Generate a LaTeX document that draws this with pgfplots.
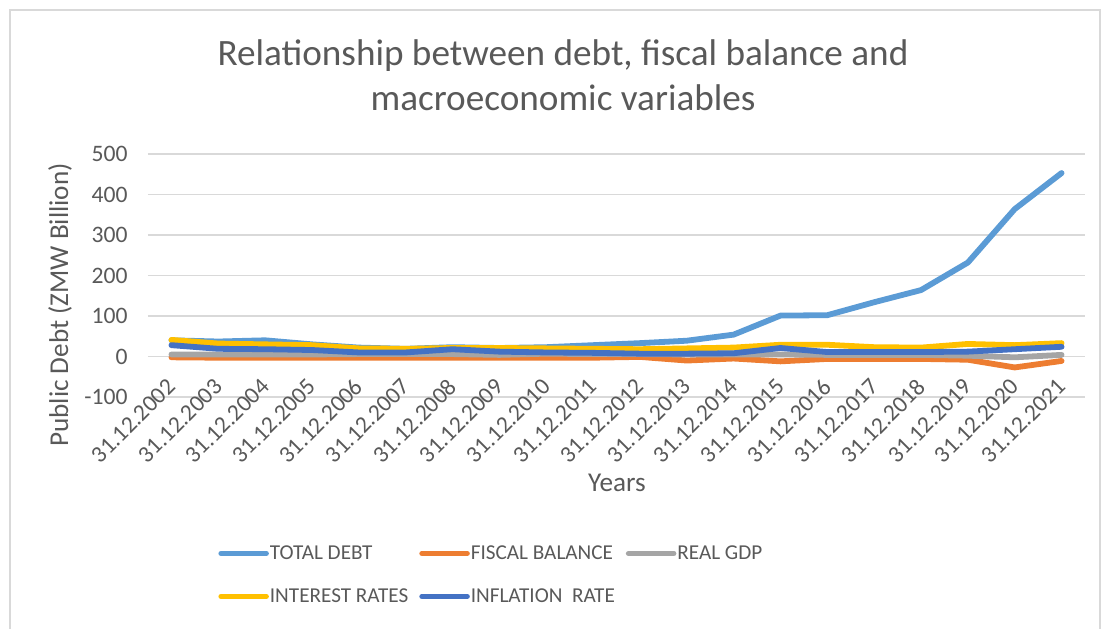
\documentclass[border=0pt]{standalone}
\usepackage{pgfplots}
\pgfplotsset{compat=1.18}
\usepackage{fontspec}
\setmainfont{Carlito}
\definecolor{cDebt}{HTML}{5B9BD5}
\definecolor{cFisc}{HTML}{ED7D31}
\definecolor{cGdp}{HTML}{A5A5A5}
\definecolor{cInt}{HTML}{FFC000}
\definecolor{cInf}{HTML}{4472C4}
\definecolor{cTxt}{HTML}{595959}
\definecolor{cGrid}{HTML}{D9D9D9}

\pgfplotstableread{
x debt fisc gdp int inf
0  40  -2  5  41 28
1  37  -3  5  32 19
2  40  -3  5  30 18
3  30  -3  5  28 16
4  22  -3  6  20 10
5  19  -3  6  19 10
6  23  -3  6  21 18
7  21  -3  4  21 12
8  23  -3  7  20 10
9  28  -3  6  19  9
10 33  -1  6  18  7
11 39 -10  5  20  7
12 54  -5  5  22  8
13 101 -12 5  29 21
14 102 -6  4  29 11
15 134 -6  4  23 11
16 164 -6  4  22 11
17 232 -8  2  31 12
18 364 -27 -2 28 18
19 453 -11 4  33 24
}\datatable

\begin{document}
\begin{tikzpicture}
\useasboundingbox (0,0) rectangle (552.5pt,314pt);
\clip (0,0) rectangle (552.5pt,314pt);
\draw[cGrid, line width=0.8pt] (5pt,-10pt) rectangle (550pt,309pt);
\node[anchor=base, text=cTxt, font=\fontsize{18.6}{22}\selectfont] at (281.5pt,281pt) {Relationship between debt, fiscal balance and};
\node[anchor=base, text=cTxt, font=\fontsize{18.6}{22}\selectfont] at (281.5pt,258.5pt) {macroeconomic variables};
\node[rotate=90, text=cTxt, font=\fontsize{13.6}{16}\selectfont] at (30pt,161.5pt) {Public Debt (ZMW Billion)};
\node[text=cTxt, font=\fontsize{13.6}{16}\selectfont] at (308.5pt,72.5pt) {Years};
\begin{axis}[
  at={(74pt,115.5pt)}, anchor=south west,
  scale only axis, width=468.5pt, height=121.5pt,
  xmin=-0.5, xmax=19.5, ymin=-100, ymax=500,
  ytick={-100,0,100,200,300,400,500},
  yticklabels={-100,0,100,200,300,400,500},
  xtick={0,...,19},
  xticklabels={31.12.2002,31.12.2003,31.12.2004,31.12.2005,31.12.2006,31.12.2007,31.12.2008,31.12.2009,31.12.2010,31.12.2011,31.12.2012,31.12.2013,31.12.2014,31.12.2015,31.12.2016,31.12.2017,31.12.2018,31.12.2019,31.12.2020,31.12.2021},
  axis line style={draw=none},
  major tick length=0pt,
  ymajorgrids,
  major grid style={cGrid, line width=0.8pt},
  tick label style={text=cTxt, font=\fontsize{11.8}{13}\selectfont},
  yticklabel style={xshift=-6.7pt},
  xticklabel style={xshift=2.5pt, yshift=9.5pt, rotate=45, anchor=east},
  clip=false,
  legend columns=3,
  legend cell align=left,
  legend style={draw=none, fill=none, inner sep=0pt, at={(0.0747,-0.605)}, anchor=north west,
    row sep=12.5pt,
    nodes={inner sep=0pt, text height=7.6pt, text depth=1.4pt, text=cTxt, font=\fontsize{10.6}{12}\selectfont},
    /tikz/every odd column/.append style={column sep=0.5pt},
    /tikz/every even column/.append style={column sep=5.5pt}},
  legend image code/.code={\draw[#1, line width=2.5pt, line cap=round] (1.25pt,0pt) -- (24pt,0pt);},
  every axis plot/.append style={line width=2.9pt, line join=round, line cap=round},
]
\addplot[cDebt] table[x=x, y=debt] {\datatable};
\addlegendentry{TOTAL DEBT}
\addplot[cFisc] table[x=x, y=fisc] {\datatable};
\addlegendentry{FISCAL BALANCE}
\addplot[cGdp] table[x=x, y=gdp] {\datatable};
\addlegendentry{REAL GDP}
\addplot[cInt] table[x=x, y=int] {\datatable};
\addlegendentry{INTEREST RATES}
\addplot[cInf] table[x=x, y=inf] {\datatable};
\addlegendentry{INFLATION\ \ RATE}
\end{axis}
\end{tikzpicture}
\end{document}
